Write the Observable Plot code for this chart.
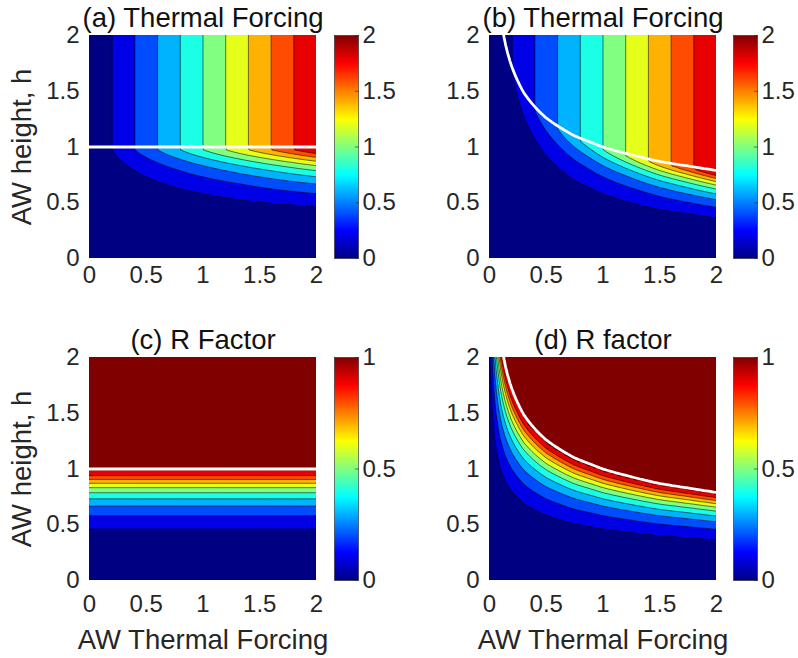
<!DOCTYPE html>
<html><head><meta charset="utf-8">
<script src="https://cdn.jsdelivr.net/npm/d3@7"></script>
<script src="https://cdn.jsdelivr.net/npm/@observablehq/plot@0.6"></script>
<style>
body{margin:0;background:#fff;}
#fig{position:relative;width:798px;height:658px;overflow:hidden;background:#fff;}
#fig svg{position:absolute;left:0;top:0;}
</style></head><body><div id="fig"></div>
<script>
// ---- data ----
const tfTicks = [0, 0.5, 1, 1.5, 2];
const hTicks = [0, 0.5, 1, 1.5, 2];
const rTicks = [0, 0.5, 1];
const tfLevels = [0, 0.2, 0.4, 0.6, 0.8, 1, 1.2, 1.4, 1.6, 1.8];
const rLevels = [0, 0.1, 0.2, 0.3, 0.4, 0.5, 0.6, 0.7, 0.8, 0.9, 1];
// R factor vs h / h_crit (contour positions)
const rProfileRatio = [0, 0.467, 0.582, 0.668, 0.733, 0.788, 0.833, 0.872, 0.907, 0.94, 0.975];
const rProfileValue = [0, 0.1, 0.2, 0.3, 0.4, 0.5, 0.6, 0.7, 0.8, 0.9, 1];
// critical height curve (white line of panels b, d)
const critTF = [0.01, 0.02, 0.05, 0.1, 0.125, 0.15, 0.2, 0.25, 0.3, 0.4, 0.5, 0.6, 0.75, 0.9, 1, 1.25, 1.5, 1.75, 2];
const critH  = [4.64, 3.68, 2.71, 2.15, 2.0, 1.88, 1.71, 1.59, 1.49, 1.36, 1.26, 1.19, 1.10, 1.04, 1.0, 0.93, 0.87, 0.83, 0.79];
const titles = ["(a) Thermal Forcing", "(b) Thermal Forcing", "(c) R Factor", "(d) R factor"];
const xLabel = "AW Thermal Forcing";
const yLabel = "AW height, h";

// ---- helpers ----
const W = 798, H = 658;
const FONT = '"Liberation Sans", Arial, Helvetica, sans-serif';
const INK = "#262626";
const jetStops = [0, 0.125, 0.375, 0.625, 0.875, 1];
const jetColors = ["#000083", "#0000ff", "#00ffff", "#ffff00", "#ff0000", "#800000"];
const jet = vmax => ({type: "linear", domain: jetStops.map(t => t * vmax), range: jetColors, interpolate: "rgb"});

const rOf = d3.scaleLinear(rProfileRatio, rProfileValue).clamp(true);
const hcOf = d3.scaleLog(critTF, critH).clamp(true);
const cl = v => Math.max(0, Math.min(2, v));
const ratio = (x, y, crit) => cl(y) / (crit ? hcOf(Math.max(cl(x), critTF[0])) : 1);
const field = (x, y, kind, crit) => {
  const r = rOf(ratio(x, y, crit));
  return kind === "tf" ? cl(x) * r : r;
};

const cols = [{l: 89, r: 316, cbl: 334, cbr: 358}, {l: 489, r: 716, cbl: 733, cbr: 757}];
const rows = [{t: 35, b: 258, xpad: 7}, {t: 357, b: 580, xpad: 14}];
const panels = [
  {col: 0, row: 0, kind: "tf", crit: false},
  {col: 1, row: 0, kind: "tf", crit: true},
  {col: 0, row: 1, kind: "r", crit: false},
  {col: 1, row: 1, kind: "r", crit: true}
];

const fig = document.getElementById("fig");
const E = 0.06;

panels.forEach((p, i) => {
  const C = cols[p.col], R = rows[p.row];
  const vmax = p.kind === "tf" ? 2 : 1;
  const levels = p.kind === "tf" ? tfLevels : rLevels;
  const marks = [
    Plot.contour({x1: -E, x2: 2 + E, y1: -E, y2: 2 + E,
      fill: (x, y) => field(x, y, p.kind, p.crit),
      thresholds: levels, stroke: "black", strokeWidth: 0.55, clip: true}),
    Plot.contour({x1: -E, x2: 2 + E, y1: -E, y2: 2 + E,
      value: (x, y) => ratio(x, y, p.crit),
      thresholds: [1], fill: "none", stroke: "white", strokeWidth: 2.8, clip: true}),
    Plot.axisX(tfTicks, {tickSize: 0, tickPadding: R.xpad, fontSize: 24, fill: INK, label: null, tickFormat: d => String(d)}),
    Plot.axisY(hTicks, {tickSize: 0, tickPadding: 10, fontSize: 24, fill: INK, label: null, tickFormat: d => String(d)}),
    Plot.text([titles[i]], {frameAnchor: "top", lineAnchor: "bottom", dy: -9, fontSize: 27.5, fill: "#111"})
  ];
  if (p.row === 1) marks.push(Plot.text([xLabel], {frameAnchor: "bottom", lineAnchor: "bottom", dy: 68, fontSize: 27.5, fill: INK}));
  if (p.col === 0) marks.push(Plot.text([yLabel], {frameAnchor: "left", textAnchor: "middle", lineAnchor: "middle", rotate: -90, dx: -67, fontSize: 27.5, fill: INK}));
  const plot = Plot.plot({
    width: W, height: H,
    marginLeft: C.l, marginRight: W - C.r, marginTop: R.t, marginBottom: H - R.b,
    x: {domain: [0, 2]}, y: {domain: [0, 2]},
    color: jet(vmax),
    style: {fontFamily: FONT, fontSize: "24px", color: INK, background: "transparent", overflow: "visible"},
    marks
  });
  fig.appendChild(plot);

  const cbTicks = p.kind === "tf" ? tfTicks : rTicks;
  const cb = Plot.plot({
    width: W, height: H,
    marginLeft: C.cbl, marginRight: W - C.cbr, marginTop: R.t, marginBottom: H - R.b,
    x: {domain: [0, 1], axis: null}, y: {domain: [0, vmax], axis: null},
    color: jet(vmax),
    style: {fontFamily: FONT, fontSize: "24px", color: INK, background: "transparent", overflow: "visible"},
    marks: [
      Plot.raster({x1: 0, x2: 1, y1: 0, y2: vmax, fill: (x, y) => y}),
      Plot.frame({stroke: INK, strokeWidth: 0.6}),
      Plot.axisY(cbTicks, {anchor: "right", tickSize: -4, tickFormat: () => "", label: null, stroke: INK, strokeWidth: 0.6}),
      Plot.axisY(cbTicks, {anchor: "right", tickSize: 0, tickPadding: 4, fontSize: 24, fill: INK, label: null, tickFormat: d => String(d)})
    ]
  });
  fig.appendChild(cb);
});
</script>
</body></html>
